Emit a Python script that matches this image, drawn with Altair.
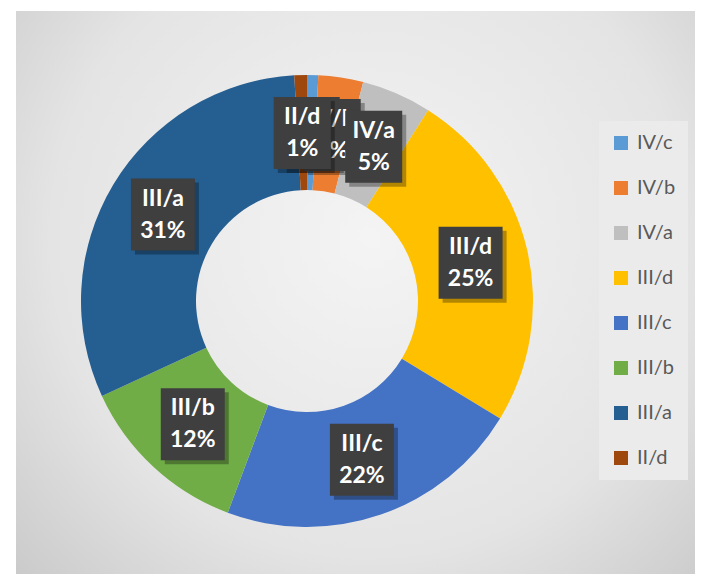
import altair as alt
import pandas as pd

categories = ["IV/c", "IV/b", "IV/a", "III/d", "III/c", "III/b", "III/a", "II/d"]
values = [0.8, 3.2, 5.0, 24.7, 22.0, 12.4, 31.0, 0.9]
colors = ["#5B9BD5", "#ED7D31", "#BFBFBF", "#FFC000", "#4472C4", "#70AD47", "#255E91", "#9E480E"]

df = pd.DataFrame({"cat": categories, "v": values, "idx": list(range(len(categories)))})

W, H = 687, 566
CX, CY = 299, 293
R_OUT, R_IN = 226, 111
R_LAB = 168

xs = alt.Scale(domain=[-CX, W - CX], nice=False, zero=False)
ys = alt.Scale(domain=[-(H - CY), CY], nice=False, zero=False)

bg = alt.Chart(pd.DataFrame({"a": [0]})).mark_rect(
    fill={
        "gradient": "radial",
        "x1": 0.52, "y1": 0.42, "x2": 0.52, "y2": 0.42,
        "r1": 0, "r2": 0.78,
        "stops": [
            {"offset": 0, "color": "#f4f4f4"},
            {"offset": 0.6, "color": "#e4e4e4"},
            {"offset": 1, "color": "#c4c4c4"},
        ],
    }
).encode(x=alt.value(8), x2=alt.value(W), y=alt.value(3), y2=alt.value(H))

base = alt.Chart(df)

arcs = base.mark_arc(innerRadius=R_IN, outerRadius=R_OUT).encode(
    theta=alt.Theta("v:Q", stack=True),
    order=alt.Order("idx:Q"),
    color=alt.Color(
        "cat:N",
        scale=alt.Scale(domain=categories, range=colors),
        sort=categories,
        legend=alt.Legend(
            title=None,
            orient="none",
            legendX=591,
            legendY=113,
            padding=12,
            fillColor="#ebebeb",
            symbolType="square",
            symbolSize=196,
            symbolStrokeWidth=0,
            labelFontSize=20,
            labelFont="Lato",
            labelColor="#595959",
            labelOffset=6,
            rowPadding=25,
        ),
    ),
    x=alt.value(CX),
    y=alt.value(CY),
)

lab = (
    base.transform_joinaggregate(total="sum(v)")
    .transform_window(cum="sum(v)", sort=[alt.SortField("idx")])
    .transform_calculate(
        ang="(datum.cum - datum.v/2)/datum.total*2*PI",
    )
    .transform_calculate(
        lx=f"{R_LAB}*sin(datum.ang)",
        ly=f"{R_LAB}*cos(datum.ang)",
        hw="(29 + 7*length(datum.cat))/2",
        pct="format(datum.v/datum.total, '.0%')",
    )
    .transform_calculate(
        bx1="datum.lx - datum.hw",
        bx2="datum.lx + datum.hw",
        by1="datum.ly - 36",
        by2="datum.ly + 36",
        sx1="datum.lx - datum.hw + 4",
        sx2="datum.lx + datum.hw + 4",
        sy1="datum.ly - 36 - 4",
        sy2="datum.ly + 36 - 4",
    )
)

layers = [bg, arcs]
for c in categories:
    f = lab.transform_filter(alt.datum.cat == c)
    shadow = f.mark_rect(fill="#000000", opacity=0.3).encode(
        x=alt.X("sx1:Q", scale=xs, axis=None), x2="sx2:Q",
        y=alt.Y("sy1:Q", scale=ys, axis=None), y2="sy2:Q",
    )
    box = f.mark_rect(fill="#3f3f3f").encode(
        x=alt.X("bx1:Q", scale=xs, axis=None), x2="bx2:Q",
        y=alt.Y("by1:Q", scale=ys, axis=None), y2="by2:Q",
    )
    t1 = f.mark_text(font="Lato", fontSize=23, fontWeight="bold", color="white",
                     baseline="middle", align="center", dy=-16).encode(
        x=alt.X("lx:Q", scale=xs, axis=None),
        y=alt.Y("ly:Q", scale=ys, axis=None),
        text="cat:N",
    )
    t2 = f.mark_text(font="Lato", fontSize=23, fontWeight="bold", color="white",
                     baseline="middle", align="center", dy=16).encode(
        x=alt.X("lx:Q", scale=xs, axis=None),
        y=alt.Y("ly:Q", scale=ys, axis=None),
        text="pct:N",
    )
    layers += [shadow, box, t1, t2]

chart = alt.layer(*layers).properties(
    width=W, height=H,
    autosize=alt.AutoSizeParams(type="none"),
    padding=0,
    background="white",
).configure_view(stroke=None)

chart.save("out.html", embed_options={"renderer": "svg", "actions": False})
